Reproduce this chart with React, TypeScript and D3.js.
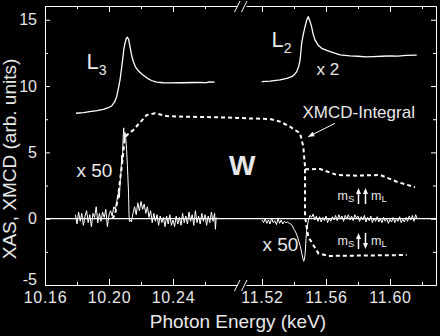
import React, { useEffect, useRef } from 'react'
import * as d3 from 'd3'

// XAS white lines (energy in keV, intensity in arb. units)
const xasL3: [number, number][] = [
  [10.1794, 7.95], [10.184, 8.0], [10.188, 8.07], [10.1925, 8.15], [10.1965, 8.25],
  [10.2, 8.4], [10.2017, 8.5], [10.2035, 8.8], [10.2048, 9.2], [10.206, 9.9],
  [10.2069, 10.46], [10.2078, 11.3], [10.2085, 11.97], [10.2093, 12.8], [10.21, 13.23],
  [10.2108, 13.6], [10.2115, 13.68], [10.2123, 13.5], [10.2131, 13.0], [10.2142, 12.3],
  [10.2152, 11.85], [10.2165, 11.45], [10.2183, 11.15], [10.221, 10.85], [10.2236, 10.62],
  [10.2265, 10.42], [10.2298, 10.3], [10.234, 10.25], [10.238, 10.24], [10.245, 10.25],
  [10.255, 10.27], [10.261, 10.26], [10.2625, 10.32], [10.266, 10.3]
]

const xasL2: [number, number][] = [
  [11.5198, 10.33], [11.525, 10.38], [11.5313, 10.46], [11.5355, 10.58], [11.5386, 10.71],
  [11.5405, 10.9], [11.5417, 11.09], [11.543, 11.5], [11.5438, 11.97], [11.5448, 13.23],
  [11.5458, 13.9], [11.5469, 14.48], [11.548, 15.0], [11.5489, 15.23], [11.5498, 14.95],
  [11.551, 14.48], [11.552, 13.9], [11.5531, 13.48], [11.555, 13.1], [11.5573, 12.85],
  [11.5625, 12.6], [11.5688, 12.35], [11.575, 12.27], [11.58, 12.25], [11.585, 12.2],
  [11.5896, 12.22], [11.595, 12.25], [11.6, 12.27], [11.605, 12.26], [11.61, 12.32],
  [11.6167, 12.33]
]

// XMCD x 50
const xmcdL3: [number, number][] = [
  [10.179, 0.3], [10.18, -0.4], [10.181, 0.5], [10.182, -0.2], [10.183, 0.4], [10.184, -0.5],
  [10.185, 0.2], [10.186, 0.6], [10.187, -0.3], [10.188, 0.3], [10.189, -0.6], [10.19, 0.4],
  [10.191, 0.1], [10.192, 0.9], [10.193, -0.3], [10.194, 0.4], [10.195, -0.2], [10.196, 0.5],
  [10.197, 0.1], [10.198, 0.7], [10.199, -0.6], [10.2, 0.3], [10.201, 0.6], [10.202, 0.2],
  [10.203, 0.9], [10.204, 0.7], [10.205, 1.4], [10.206, 2.0], [10.2065, 1.6], [10.207, 2.8],
  [10.2075, 3.6], [10.208, 4.8], [10.2083, 4.2], [10.2088, 6.0], [10.2092, 6.85], [10.2096, 5.9],
  [10.21, 6.5], [10.2105, 6.0], [10.211, 5.2], [10.2115, 4.0], [10.2122, 2.0], [10.2125, 0.3],
  [10.2128, -0.2], [10.2135, -0.1], [10.214, -0.25], [10.215, 0.4], [10.216, 0.9], [10.217, 0.3],
  [10.218, 1.2], [10.219, 0.6], [10.22, 1.3], [10.221, 0.7], [10.222, 1.1], [10.223, 0.4],
  [10.224, 0.9], [10.225, 0.1], [10.226, 0.6], [10.227, -0.3], [10.228, 0.4], [10.229, -0.2],
  [10.23, 0.3], [10.231, -0.5], [10.232, 0.2], [10.233, -0.3], [10.234, 0.1], [10.235, -0.6],
  [10.236, 0.2], [10.237, -0.4], [10.238, 0.3], [10.239, -0.5], [10.24, -0.1], [10.241, -0.6],
  [10.242, 0.2], [10.243, -0.4], [10.244, 0.1], [10.245, -0.5], [10.246, 0.4], [10.247, -0.3],
  [10.248, 0.2], [10.249, -0.4], [10.25, 0.5], [10.251, -0.2], [10.252, 0.3], [10.253, -0.5],
  [10.254, 0.6], [10.255, -0.3], [10.256, 0.2], [10.257, -0.4], [10.258, 0.4], [10.259, -0.2],
  [10.26, 0.3], [10.261, -0.5], [10.262, 0.2], [10.263, -0.3], [10.264, 0.5], [10.265, -0.2],
  [10.266, 0.4], [10.2665, -0.8], [10.267, 0.1]
]

const xmcdL2: [number, number][] = [
  [11.52, -0.1], [11.521, -0.3], [11.522, 0.0], [11.523, -0.35], [11.524, -0.1], [11.525, -0.4],
  [11.526, 0.05], [11.527, -0.3], [11.528, -0.15], [11.529, -0.45], [11.53, 0.0], [11.531, -0.35],
  [11.532, -0.1], [11.533, -0.4], [11.534, -0.2], [11.535, -0.3], [11.536, -0.25], [11.537, -0.35],
  [11.538, -0.4], [11.539, -0.55], [11.54, -0.8], [11.541, -1.0], [11.542, -1.3], [11.543, -1.7],
  [11.544, -2.1], [11.545, -2.7], [11.546, -3.2], [11.5465, -3.1], [11.547, -2.6], [11.5475, -1.5],
  [11.548, -0.8], [11.549, -0.1], [11.55, 0.25], [11.551, 0.1], [11.552, 0.35], [11.553, -0.1],
  [11.554, 0.2], [11.555, -0.2], [11.556, 0.15], [11.557, -0.25], [11.558, 0.1], [11.559, -0.15],
  [11.56, 0.2], [11.561, -0.3], [11.562, 0.05], [11.563, -0.2], [11.564, 0.15], [11.565, -0.1],
  [11.566, 0.25], [11.567, -0.15], [11.568, 0.3], [11.569, 0.0], [11.57, 0.2], [11.571, -0.2],
  [11.572, 0.25], [11.573, 0.0], [11.574, 0.3], [11.575, -0.1], [11.576, 0.2], [11.577, -0.15],
  [11.578, 0.3], [11.579, 0.05], [11.58, 0.2], [11.581, -0.2], [11.582, 0.15], [11.583, -0.1],
  [11.584, 0.25], [11.585, -0.25], [11.586, 0.1], [11.587, -0.15], [11.588, 0.2], [11.589, -0.3],
  [11.59, 0.05], [11.591, -0.2], [11.592, 0.15], [11.593, -0.25], [11.594, 0.0], [11.595, -0.3],
  [11.596, 0.1], [11.597, -0.2], [11.598, 0.0], [11.599, -0.35], [11.6, -0.05], [11.601, -0.25],
  [11.602, 0.1], [11.603, -0.3], [11.604, 0.0], [11.605, -0.2], [11.606, 0.15], [11.607, -0.3],
  [11.608, -0.05], [11.609, -0.25], [11.61, 0.1], [11.611, -0.2], [11.612, 0.2], [11.613, -0.1],
  [11.614, 0.25], [11.615, -0.2], [11.616, 0.3], [11.617, 0.0]
]

// XMCD integral (dashed): L3 part, then L2 drop down to the ms/mL antiparallel level
const integralMain: [number, number][] = [
  [10.2019, 0.0], [10.2038, 0.3], [10.2058, 1.8], [10.2086, 4.55], [10.2097, 5.93],
  [10.2111, 6.3], [10.2152, 6.69], [10.2236, 7.82], [10.2288, 7.95], [10.2361, 7.74],
  [10.2444, 7.7], [10.2694, 7.64], [10.28, 7.6],
  [11.51, 7.57], [11.525, 7.52], [11.5313, 7.32], [11.5375, 6.94], [11.5438, 6.44],
  [11.5458, 5.43], [11.5469, 3.92], [11.5469, 0.15], [11.5489, -1.36], [11.5552, -2.61],
  [11.5614, -2.81], [11.6104, -2.74]
]

// ms/mL parallel branch
const integralUp: [number, number][] = [
  [11.5469, 3.73], [11.551, 3.73], [11.5563, 3.75], [11.5667, 3.3], [11.5792, 3.24],
  [11.5938, 3.3], [11.6042, 2.79], [11.6156, 2.37]
]

const leftMajor = [10.16, 10.2, 10.24]
const leftMinor = [10.18, 10.22, 10.26]
const rightMajor = [11.52, 11.56, 11.6]
const rightMinor = [11.54, 11.58, 11.62]
const yMajor = [-5, 0, 5, 10, 15]
const yMinor = [-2.5, 2.5, 7.5, 12.5]

const font = '"Liberation Sans", Arial, Helvetica, sans-serif'
const textColor = '#e8e8e8'

function App() {
  const ref = useRef<SVGSVGElement>(null)

  useEffect(() => {
    if (!ref.current) return
    const svg = d3.select(ref.current)
    svg.selectAll('*').remove()

    const W = 440, H = 336
    const top = 6, bottom = 285, left = 45, right = 436

    svg.append('rect').attr('width', W).attr('height', H).attr('fill', '#000')

    const xLeft = d3.scaleLinear().domain([10.16, 10.28]).range([left, 237])
    const xRight = d3.scaleLinear().domain([11.51, 11.629]).range([246, right + 0.4])
    const xPos = (e: number) => (e < 11 ? xLeft(e) : xRight(e))
    const y = d3.scaleLinear().domain([-5, 16]).range([bottom, top + 0.5])

    const styleAxis = (g: any) => {
      g.attr('color', '#fff').attr('font-family', font).attr('font-size', 16)
      g.selectAll('text').attr('fill', textColor)
    }
    const noDomain = (g: any) => g.select('.domain').remove()

    // bottom axes
    ;[[xLeft, leftMajor, leftMinor], [xRight, rightMajor, rightMinor]].forEach(([sc, major, minor]: any) => {
      svg.append('g').attr('transform', `translate(0,${bottom})`)
        .call(d3.axisBottom(sc).tickValues(major).tickSize(-6).tickSizeOuter(0).tickPadding(7).tickFormat(d3.format('.2f')))
        .call(styleAxis)
        .call((g: any) => g.selectAll('text').attr('letter-spacing', 0.7))
      svg.append('g').attr('transform', `translate(0,${bottom})`)
        .call(d3.axisBottom(sc).tickValues(minor).tickSize(-3).tickFormat(() => ''))
        .call(styleAxis).call(noDomain)
      svg.append('g').attr('transform', `translate(0,${top})`)
        .call(d3.axisTop(sc).tickValues(major).tickSize(-6).tickSizeOuter(0).tickFormat(() => ''))
        .call(styleAxis)
      svg.append('g').attr('transform', `translate(0,${top})`)
        .call(d3.axisTop(sc).tickValues(minor).tickSize(-3).tickFormat(() => ''))
        .call(styleAxis).call(noDomain)
    })

    // y axes
    svg.append('g').attr('transform', `translate(${left},0)`)
      .call(d3.axisLeft(y).tickValues(yMajor).tickSize(-5).tickSizeOuter(0).tickPadding(8).tickFormat((d: any) => String(d)))
      .call(styleAxis)
      .call((g: any) => g.selectAll('text').filter((d: any) => d === -5).attr('dy', '-0.03em'))
    svg.append('g').attr('transform', `translate(${left},0)`)
      .call(d3.axisLeft(y).tickValues(yMinor).tickSize(-3).tickFormat(() => ''))
      .call(styleAxis).call(noDomain)
    svg.append('g').attr('transform', `translate(${right},0)`)
      .call(d3.axisRight(y).tickValues(yMajor).tickSize(-5).tickSizeOuter(0).tickFormat(() => ''))
      .call(styleAxis)
    svg.append('g').attr('transform', `translate(${right},0)`)
      .call(d3.axisRight(y).tickValues(yMinor).tickSize(-3).tickFormat(() => ''))
      .call(styleAxis).call(noDomain)

    // axis break marks
    ;[top + 0.5, bottom + 0.5].forEach(yy => {
      ;[234.5, 241.5].forEach(xx => {
        svg.append('line')
          .attr('x1', xx).attr('y1', yy + 5.5).attr('x2', xx + 5.5).attr('y2', yy - 5.5)
          .attr('stroke', '#fff').attr('stroke-width', 1)
      })
    })

    // zero line
    svg.append('line')
      .attr('x1', left).attr('x2', right).attr('y1', y(0)).attr('y2', y(0))
      .attr('stroke', '#fff').attr('stroke-width', 1.2)

    const line = d3.line<[number, number]>().x(d => xPos(d[0])).y(d => y(d[1]))

    ;[xasL3, xasL2].forEach(data => {
      svg.append('path').datum(data).attr('d', line).attr('fill', 'none')
        .attr('stroke', '#fff').attr('stroke-width', 1.3).attr('stroke-linejoin', 'round')
    })
    ;[xmcdL3, xmcdL2].forEach(data => {
      svg.append('path').datum(data).attr('d', line).attr('fill', 'none')
        .attr('stroke', '#fff').attr('stroke-width', 1)
    })
    ;[integralMain, integralUp].forEach(data => {
      svg.append('path').datum(data).attr('d', line).attr('fill', 'none')
        .attr('stroke', '#fff').attr('stroke-width', 2).attr('stroke-dasharray', '4,3')
    })

    const arrowHead = (x: number, yy: number, angle: number, len = 6, half = 2.5) => {
      const ca = Math.cos(angle), sa = Math.sin(angle)
      const bx = x - len * ca, by = yy - len * sa
      svg.append('path')
        .attr('d', `M${x},${yy}L${bx - half * sa},${by + half * ca}L${bx + half * sa},${by - half * ca}Z`)
        .attr('fill', '#fff')
    }

    // XMCD-Integral pointer
    const ax1 = xRight(11.5656), ay1 = y(7.19), ax2 = xRight(11.5489), ay2 = y(6.18)
    svg.append('line').attr('x1', ax1).attr('y1', ay1).attr('x2', ax2).attr('y2', ay2)
      .attr('stroke', '#fff').attr('stroke-width', 1)
    arrowHead(ax2, ay2, Math.atan2(ay2 - ay1, ax2 - ax1))

    const addText = (x: number, yy: number, size: number, txt: string, weight = 'normal') =>
      svg.append('text').attr('x', x).attr('y', yy).attr('font-size', size)
        .attr('font-family', font).attr('font-weight', weight).attr('fill', textColor).text(txt)

    const withSub = (x: number, yy: number, size: number, main: string, sub: string, subSize: number, dy: number) => {
      const t = svg.append('text').attr('x', x).attr('y', yy).attr('font-family', font).attr('fill', textColor)
      t.append('tspan').attr('font-size', size).text(main)
      t.append('tspan').attr('font-size', subSize).attr('dy', dy).text(sub)
    }

    withSub(86.5, 68.5, 22, 'L', '3', 14, 6.5)
    withSub(271.5, 46.8, 22, 'L', '2', 14, 6.5)
    addText(316.5, 75, 17, 'x 2')
    addText(76.5, 176.7, 19, 'x 50')
    addText(262.5, 250.7, 19, 'x 50')
    addText(229, 175, 28, 'W', 'bold')
    addText(302.5, 118.3, 17, 'XMCD-Integral')

    // spin / orbital moment notes
    const moments = [
      { yy: 200, second: -1 },
      { yy: 245, second: 1 }
    ]
    moments.forEach(({ yy, second }) => {
      withSub(337.5, yy, 12.5, 'm', 'S', 9.5, 2)
      withSub(371, yy, 12.5, 'm', 'L', 9.5, 2)
      const yTop = yy - 12, yBot = yy + 4
      // first arrow always up
      svg.append('line').attr('x1', 358.5).attr('x2', 358.5).attr('y1', yBot).attr('y2', yTop + 4)
        .attr('stroke', '#fff').attr('stroke-width', 1.5)
      arrowHead(358.5, yTop, -Math.PI / 2)
      if (second < 0) {
        svg.append('line').attr('x1', 365.5).attr('x2', 365.5).attr('y1', yBot).attr('y2', yTop + 4)
          .attr('stroke', '#fff').attr('stroke-width', 1.5)
        arrowHead(365.5, yTop, -Math.PI / 2)
      } else {
        svg.append('line').attr('x1', 365.5).attr('x2', 365.5).attr('y1', yTop).attr('y2', yBot - 4)
          .attr('stroke', '#fff').attr('stroke-width', 1.5)
        arrowHead(365.5, yBot, Math.PI / 2)
      }
    })

    // axis titles
    svg.append('text').attr('x', 238).attr('y', 328).attr('text-anchor', 'middle')
      .attr('font-size', 19).attr('font-family', font).attr('fill', textColor)
      .text('Photon Energy (keV)')
    svg.append('text').attr('transform', 'translate(15.5,159) rotate(-90)').attr('text-anchor', 'middle')
      .attr('font-size', 19).attr('font-family', font).attr('fill', textColor)
      .text('XAS, XMCD (arb. units)')
  }, [])

  return (
    <svg ref={ref} width={440} height={336}
      style={{ position: 'absolute', left: 0, top: 0, display: 'block' }} />
  )
}

export default App
